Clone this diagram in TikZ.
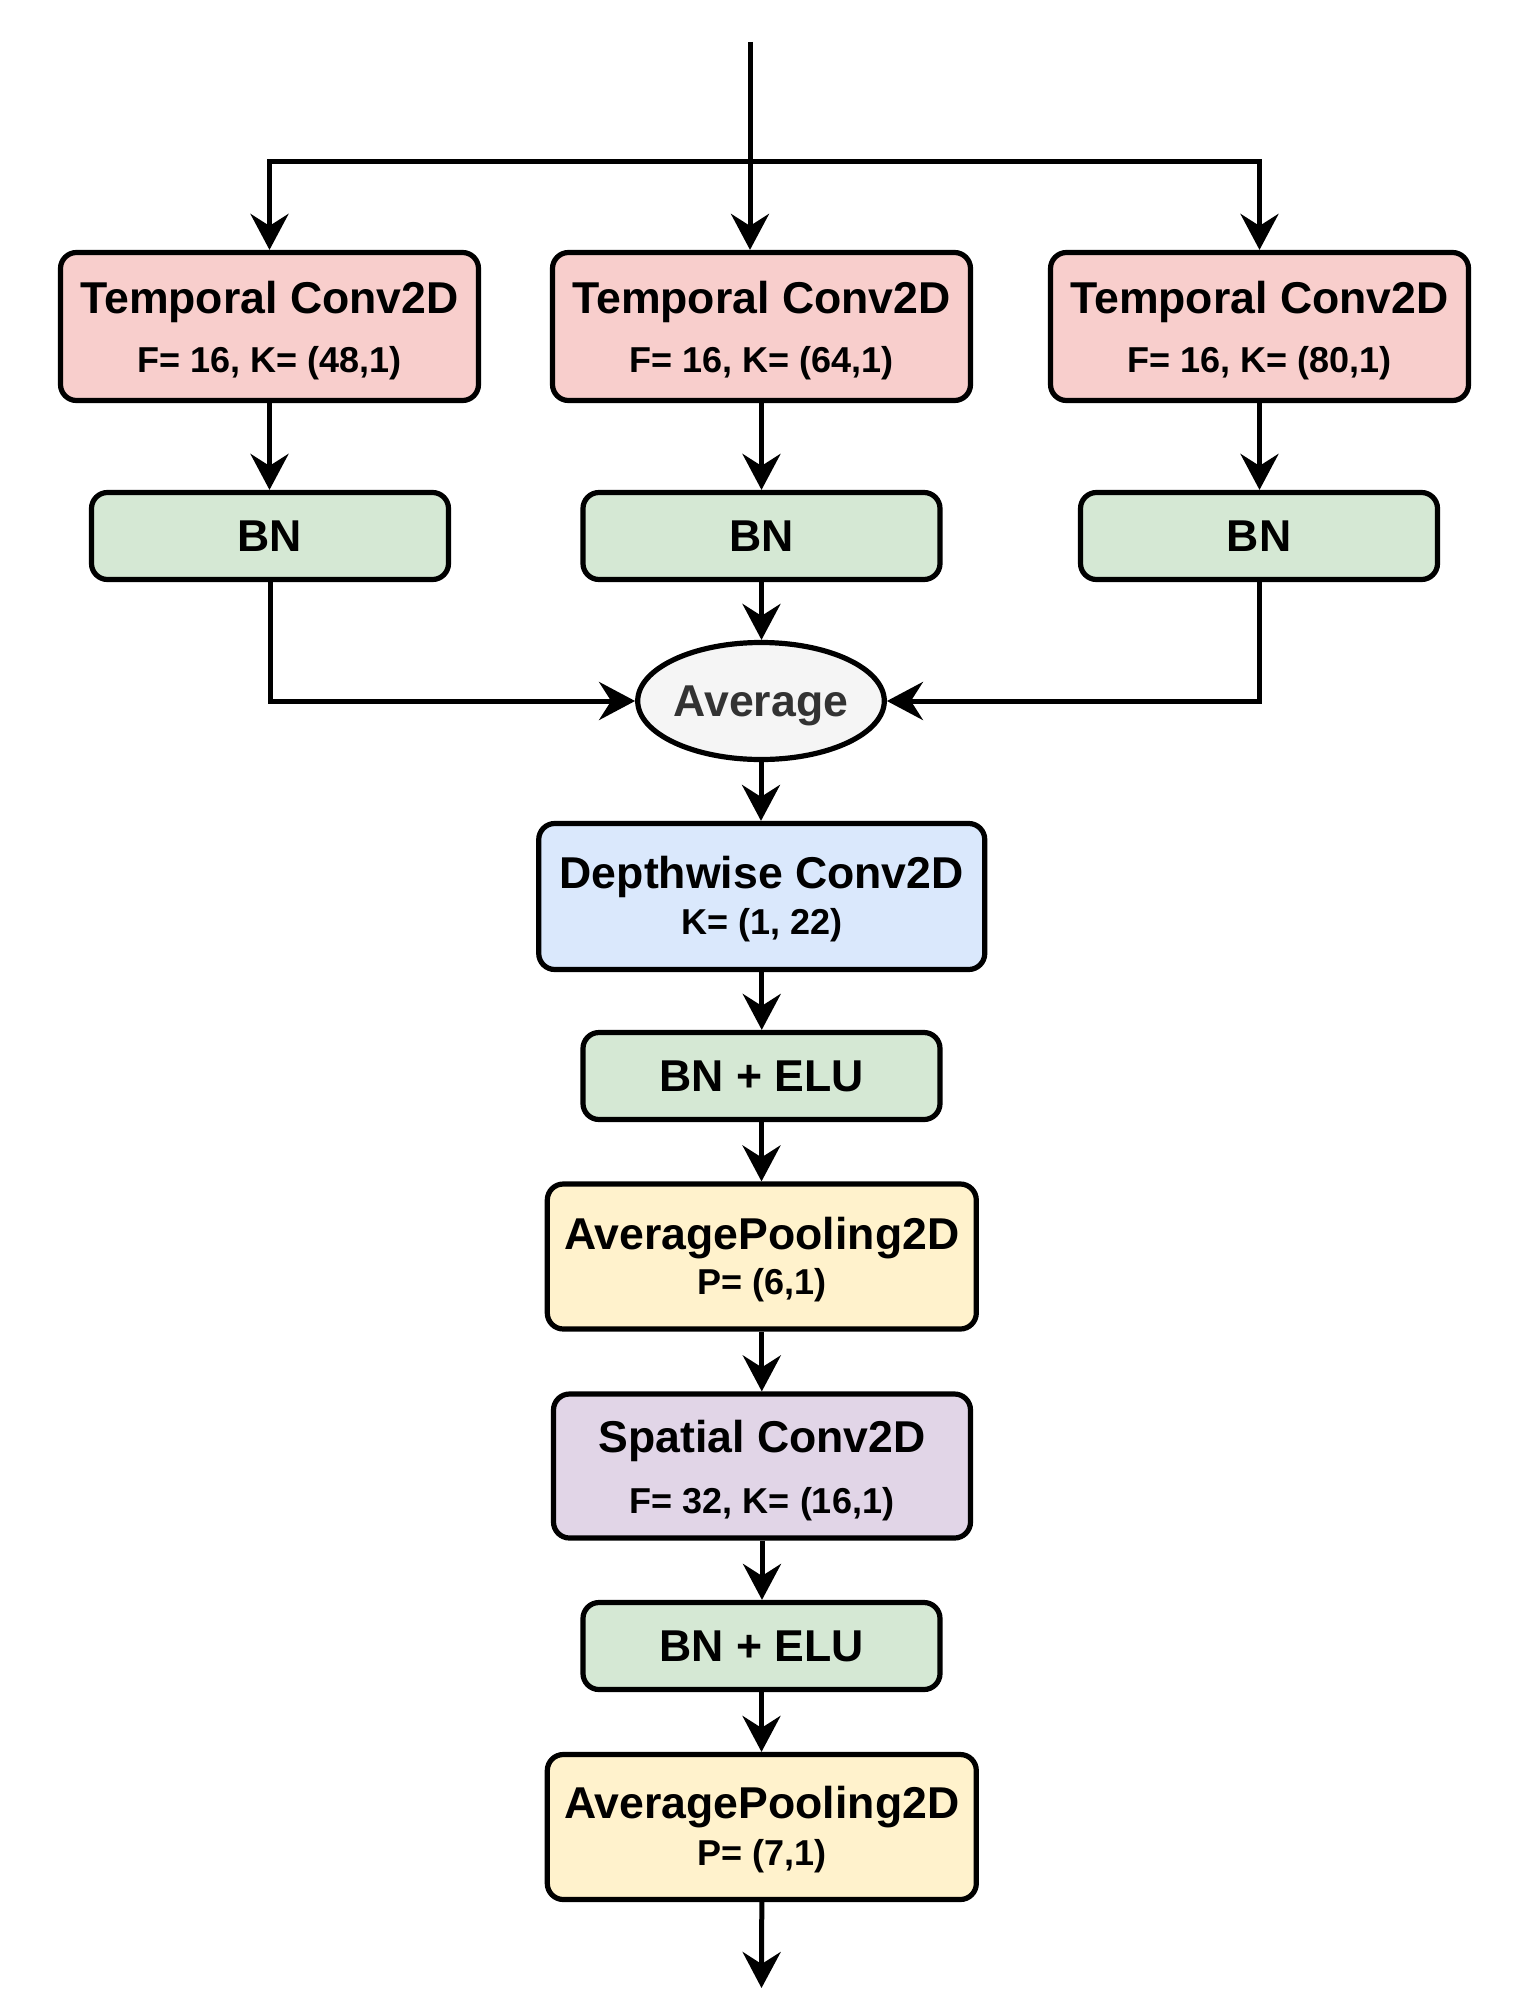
\documentclass[tikz,border=0pt]{standalone}
\usepackage{fontspec}
\setmainfont{Liberation Sans}
\usetikzlibrary{arrows.meta,shapes.geometric,calc}
\definecolor{cpink}{HTML}{F8CECC}
\definecolor{cgreen}{HTML}{D5E8D4}
\definecolor{cblue}{HTML}{DAE8FC}
\definecolor{cyellow}{HTML}{FFF2CC}
\definecolor{cpurple}{HTML}{E1D5E7}
\definecolor{cgray}{HTML}{F5F5F5}
\definecolor{cdark}{HTML}{333333}
\tikzset{
  blk/.style={draw=black, line width=2.6pt, rounded corners=8pt, inner sep=0pt},
  tbox/.style={blk, fill=cpink, minimum width=209pt, minimum height=74pt},
  bnbox/.style={blk, fill=cgreen, minimum width=178.5pt, minimum height=43.5pt,
    font=\fontsize{22.3}{26}\selectfont\bfseries},
  dbox/.style={blk, fill=cblue, minimum width=223pt, minimum height=73pt},
  pbox/.style={blk, fill=cyellow, minimum width=214.5pt, minimum height=72.5pt},
  sbox/.style={blk, fill=cpurple, minimum width=208.5pt, minimum height=72pt},
  avgnode/.style={ellipse, draw=black, line width=2.6pt, fill=cgray, inner sep=0pt,
    minimum width=119.5pt, minimum height=58.5pt, text=cdark, text depth=0pt,
    font=\fontsize{22.3}{26}\selectfont\bfseries},
  titletxt/.style={anchor=base, inner sep=0pt, font=\fontsize{22.3}{26}\selectfont\bfseries},
  subtxt/.style={anchor=base, inner sep=0pt, font=\fontsize{18}{22}\selectfont\bfseries},
  plainline/.style={line width=2.5pt},
  conn/.style={line width=2.5pt, -{Stealth[length=18pt,width=19pt,inset=6pt]}},
}
\begin{document}
\begin{tikzpicture}[x=0.5pt,y=-0.5pt]
\useasboundingbox (0,0) rectangle (1521,2007);

% temporal boxes
\node[tbox] (T1) at (269.5,326.5) {};
\node[tbox] (T2) at (761.5,326.5) {};
\node[tbox] (T3) at (1259.5,326.5) {};
\node[titletxt] (T1a) at (269.5,313) {Temporal Conv2D};
\node[subtxt]   (T1b) at (269.5,372) {F= 16, K= (48,1)};
\node[titletxt] (T2a) at (761.5,313) {Temporal Conv2D};
\node[subtxt]   (T2b) at (761.5,372) {F= 16, K= (64,1)};
\node[titletxt] (T3a) at (1259.5,313) {Temporal Conv2D};
\node[subtxt]   (T3b) at (1259.5,372) {F= 16, K= (80,1)};

% BN boxes
\node[bnbox] (B1) at (270,536) {BN};
\node[bnbox] (B2) at (761.5,536) {BN};
\node[bnbox] (B3) at (1259,536) {BN};

% average
\node[avgnode] (AV) at (761,701) {Average};

% depthwise
\node[dbox] (D) at (761.75,896.5) {};
\node[titletxt] (Da) at (761.75,888) {Depthwise Conv2D};
\node[subtxt]   (Db) at (761.75,934) {K= (1, 22)};

% BN + ELU 1
\node[bnbox] (E1) at (761.5,1076) {BN + ELU};

% pooling 1
\node[pbox] (P1) at (761.8,1256.5) {};
\node[titletxt] (P1a) at (761.8,1249) {AveragePooling2D};
\node[subtxt]   (P1b) at (761.8,1294) {P= (6,1)};

% spatial
\node[sbox] (S) at (762,1466) {};
\node[titletxt] (Sa) at (762,1452) {Spatial Conv2D};
\node[subtxt]   (Sb) at (762,1513) {F= 32, K= (16,1)};

% BN + ELU 2
\node[bnbox] (E2) at (761.5,1646) {BN + ELU};

% pooling 2
\node[pbox] (P2) at (761.8,1827) {};
\node[titletxt] (P2a) at (761.8,1818) {AveragePooling2D};
\node[subtxt]   (P2b) at (761.8,1865) {P= (7,1)};

% connectors
\coordinate (in) at (750,42);
\coordinate (split) at (750,161);
\coordinate (out) at (761.5,1988);
\draw[plainline] (in) -- (split);
\draw[conn] (split) -| (T1.north);
\draw[conn] (split) -- (split |- T2.north);
\draw[conn] (split) -| (T3.north);
\draw[conn] (T1.south) -- (T1.south |- B1.north);
\draw[conn] (T2.south) -- (T2.south |- B2.north);
\draw[conn] (T3.south) -- (T3.south |- B3.north);
\draw[conn] (B1.south) |- (AV.west);
\draw[conn] (B3.south) |- (AV.east);
\draw[conn] (B2.south) -- (B2.south |- AV.north);
\draw[conn] (AV.south) -- (AV.south |- D.north);
\draw[conn] (D.south) -- (D.south |- E1.north);
\draw[conn] (E1.south) -- (E1.south |- P1.north);
\draw[conn] (P1.south) -- (P1.south |- S.north);
\draw[conn] (S.south) -- (S.south |- E2.north);
\draw[conn] (E2.south) -- (E2.south |- P2.north);
\draw[conn] (P2.south) -- (out);
\end{tikzpicture}
\end{document}
